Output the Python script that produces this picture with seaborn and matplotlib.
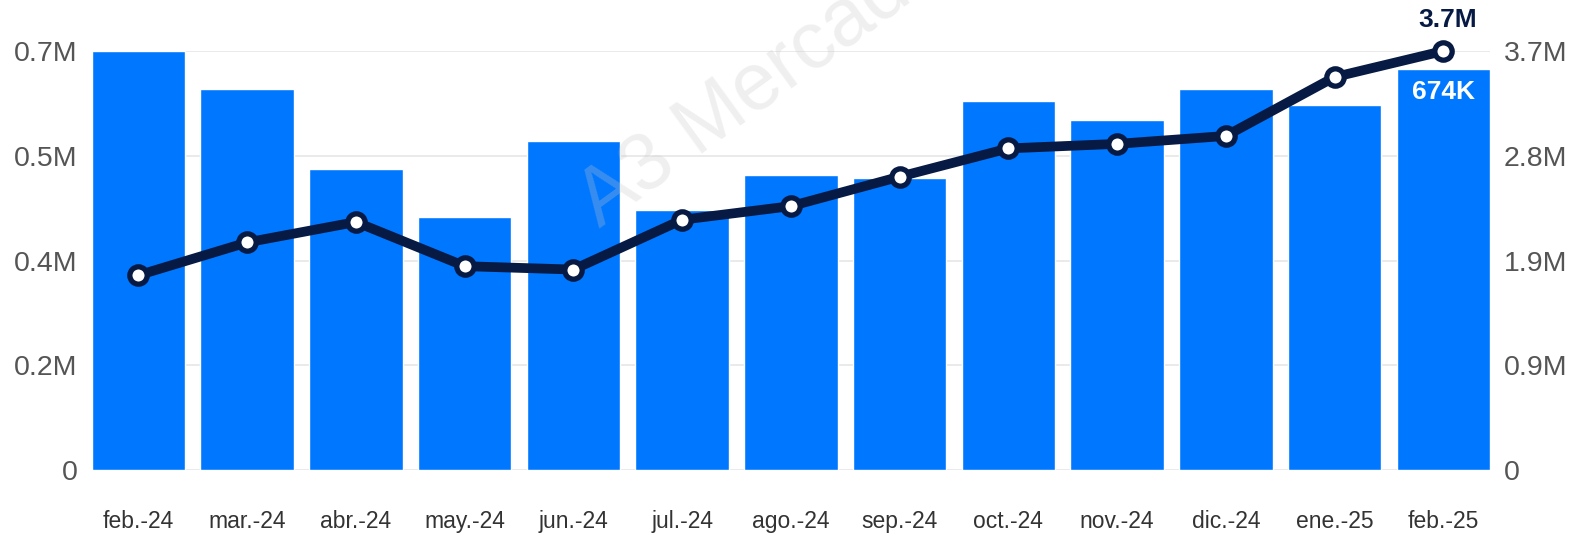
import numpy as np
import pandas as pd
import seaborn as sns
import matplotlib.pyplot as plt

meses = ['feb.-24', 'mar.-24', 'abr.-24', 'may.-24', 'jun.-24', 'jul.-24', 'ago.-24',
         'sep.-24', 'oct.-24', 'nov.-24', 'dic.-24', 'ene.-25', 'feb.-25']
barras = [0.704, 0.640, 0.506, 0.425, 0.553, 0.437, 0.496,
          0.490, 0.620, 0.588, 0.640, 0.613, 0.674]          # millones, eje izq.
linea = [1.72, 2.01, 2.19, 1.80, 1.77, 2.21, 2.33,
         2.59, 2.84, 2.88, 2.95, 3.47, 3.70]                   # millones, eje der.
ticks_izq = ['0', '0.2M', '0.4M', '0.5M', '0.7M']
ticks_der = ['0', '0.9M', '1.9M', '2.8M', '3.7M']

azul = '#0077FF'
marino = '#061A44'
gris = '#555555'

df = pd.DataFrame({'mes': meses, 'barras': np.array(barras) * 1e6, 'linea': np.array(linea) * 1e6})

sns.set_style('white')
plt.rcParams['font.family'] = ['Liberation Sans', 'DejaVu Sans']

fig = plt.figure(figsize=(15.81, 5.33), dpi=100)
ax = fig.add_axes([0.058, 0.1182, 0.8845, 0.7861])

ancho = 0.86
sns.barplot(data=df, x='mes', y='barras', color=azul, saturation=1, width=ancho, ax=ax, zorder=2)

ymax_izq = df['barras'].max()
ax.set_ylim(0, ymax_izq)
ax.set_yticks(np.linspace(0, ymax_izq, 5))
ax.set_yticklabels(ticks_izq)
ax.grid(axis='y', color='#E6E6E6', linewidth=1.2, zorder=0)
ax.set_axisbelow(True)
for s in ax.spines.values():
    s.set_visible(False)
ax.set_xlabel('')
ax.set_ylabel('')
ax.tick_params(axis='y', labelsize=20.5, labelcolor=gris, length=0, pad=10)
ax.tick_params(axis='x', labelsize=16.5, labelcolor='#333333', length=0, pad=29)

# marca de agua
ax.text(0.379, 0.572, 'A3 Mercados', transform=fig.transFigure, rotation=36,
        rotation_mode='anchor', ha='left', va='baseline', fontsize=58,
        color='#C8C8C8', alpha=0.28, zorder=3)

ax2 = ax.twinx()
sns.pointplot(data=df, x='mes', y='linea', color=marino, markers='o', linestyles='-',
              errorbar=None, ax=ax2, linewidth=7, markersize=12.5,
              markerfacecolor='white', markeredgecolor=marino, markeredgewidth=3.8)
ymax_der = df['linea'].max()
ax2.set_ylim(0, ymax_der)
ax2.set_yticks(np.linspace(0, ymax_der, 5))
ax2.set_yticklabels(ticks_der)
ax2.tick_params(axis='y', labelsize=20.5, labelcolor=gris, length=0, pad=10)
ax2.set_ylabel('')
ax2.grid(False)
for s in ax2.spines.values():
    s.set_visible(False)
for l in ax2.lines:
    l.set_clip_on(False)

ax.set_xlim(-ancho / 2, len(meses) - 1 + ancho / 2)

ult = len(meses) - 1
ax2.annotate(f'{linea[-1]:.1f}M', (ult, df['linea'].iloc[-1]), xytext=(3, 17),
             textcoords='offset points', ha='center', va='baseline',
             fontsize=19, fontweight='bold', color=marino)
ax.annotate(f'{round(barras[-1] * 1000)}K', (ult, df['barras'].iloc[-1]), xytext=(0, -21.5),
            textcoords='offset points', ha='center', va='baseline',
            fontsize=19, fontweight='bold', color='white', zorder=4)

fig.savefig('out.png', dpi=100)
